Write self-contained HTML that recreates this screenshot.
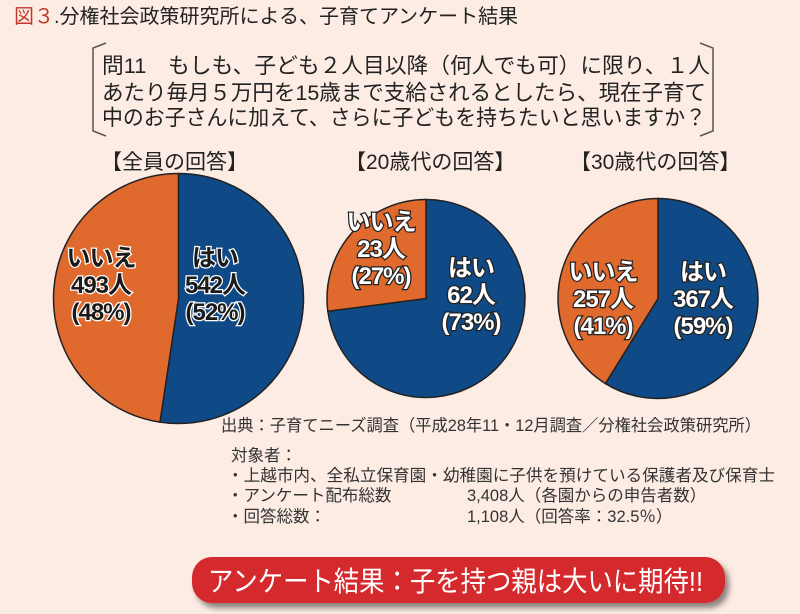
<!DOCTYPE html>
<html><head><meta charset="utf-8"><style>
body{margin:0;background:#fdece4;}
svg{display:block;font-family:"Liberation Sans","Noto Sans CJK JP",sans-serif;}
</style></head><body>
<svg width="800" height="614" viewBox="0 0 800 614">
<defs>
<filter id="sh" x="-10%" y="-30%" width="130%" height="180%"><feDropShadow dx="4" dy="5" stdDeviation="3" flood-color="#000" flood-opacity="0.45"/></filter>
</defs>
<rect width="800" height="614" fill="#fdece4"/>
<text x="14" y="23" font-size="20" fill="#222"><tspan fill="#c0392b">図３</tspan>.分権社会政策研究所による、子育てアンケート結果</text>
<g fill="none" stroke="#555" stroke-width="1.5">
<path d="M106,43 L93,48 L93,131 L106,136"/>
<path d="M700,43 L713,48 L713,131 L700,136"/>
</g>
<g font-size="21.5" fill="#222">
<text x="102" y="73" textLength="608" lengthAdjust="spacingAndGlyphs">問11　もしも、子ども２人目以降（何人でも可）に限り、１人</text>
<text x="102" y="100" textLength="604" lengthAdjust="spacingAndGlyphs">あたり毎月５万円を15歳まで支給されるとしたら、現在子育て</text>
<text x="102" y="125" textLength="604" lengthAdjust="spacingAndGlyphs">中のお子さんに加えて、さらに子どもを持ちたいと思いますか？</text>
</g>
<g font-size="21" fill="#222">
<text x="101" y="169">【全員の回答】</text>
<text x="345" y="169">【20歳代の回答】</text>
<text x="570" y="169">【30歳代の回答】</text>
</g>
<g id="pies"></g>
<g font-size="16.5" fill="#333">
<text x="221" y="431" textLength="540" lengthAdjust="spacingAndGlyphs">出典：子育てニーズ調査（平成28年11・12月調査／分権社会政策研究所）</text>
<text x="231" y="461">対象者：</text>
<text x="227" y="481" textLength="548" lengthAdjust="spacingAndGlyphs">・上越市内、全私立保育園・幼稚園に子供を預けている保護者及び保育士</text>
<text x="227" y="501">・アンケート配布総数</text>
<text x="467" y="501">3,408人（各園からの申告者数）</text>
<text x="227" y="522">・回答総数：</text>
<text x="467" y="522">1,108人（回答率：32.5％）</text>
</g>
<g>
<rect x="192" y="557" width="533" height="46" rx="20" fill="#d42a2e" filter="url(#sh)"/>
<text x="208" y="591" font-size="28" fill="#fff" textLength="495" lengthAdjust="spacingAndGlyphs">アンケート結果：子を持つ親は大いに期待!!</text>
</g>
</svg>
<script>
const groups = ["全員", "20歳代", "30歳代"];
const yesCounts = [542, 62, 367];
const noCounts = [493, 23, 257];
const yesPct = [52, 73, 59];
const noPct = [48, 27, 41];
const NS = "http://www.w3.org/2000/svg";
const geo = [{cx:178.5,cy:298.5,r:125,yes:[215,258],no:[101,258],dark:true},
             {cx:426,cy:298.5,r:99,yes:[471,268],no:[381,222],dark:false},
             {cx:658,cy:298.5,r:100,yes:[703,272],no:[603,272],dark:false}];
const root = document.getElementById("pies");
function pt(g,a){return [g.cx+g.r*Math.sin(a), g.cy-g.r*Math.cos(a)];}
function slice(g,a0,a1,color,name){
  const p0=pt(g,a0),p1=pt(g,a1),large=(a1-a0)>Math.PI?1:0;
  const p=document.createElementNS(NS,"path");
  p.setAttribute("d",`M${g.cx},${g.cy} L${p0[0]},${p0[1]} A${g.r},${g.r} 0 ${large} 1 ${p1[0]},${p1[1]} Z`);
  p.setAttribute("fill",color);p.setAttribute("stroke","#222");p.setAttribute("stroke-width","1.5");
  
  
  root.appendChild(p);
}
function label(x,y,lines,dark,name){
  const t=document.createElementNS(NS,"text");
  t.setAttribute("x",x);t.setAttribute("y",y);t.setAttribute("text-anchor","middle");
  t.setAttribute("font-size","24");t.setAttribute("font-weight","bold");t.setAttribute("letter-spacing","-1");
  t.setAttribute("fill",dark?"#1a1a1a":"#fff");t.setAttribute("stroke",dark?"#fff":"#222");
  t.setAttribute("stroke-width","2.5");t.setAttribute("paint-order","stroke");
  
  
  lines.forEach((s,i)=>{const ts=document.createElementNS(NS,"tspan");ts.setAttribute("x",x);ts.setAttribute("dy",i?27:0);ts.textContent=s;t.appendChild(ts);});
  root.appendChild(t);
}
groups.forEach((gname,i)=>{
  const g=geo[i];const tot=yesCounts[i]+noCounts[i];
  const split=2*Math.PI*yesCounts[i]/tot;
  slice(g,0,split,"#0f4a87","pie-yes-"+i);
  slice(g,split,2*Math.PI,"#e0692d","pie-no-"+i);
  label(g.no[0],g.no[1]+8,["いいえ",noCounts[i]+"人","("+noPct[i]+"%)"],g.dark,"label-no-"+i);
  label(g.yes[0],g.yes[1]+8,["はい",yesCounts[i]+"人","("+yesPct[i]+"%)"],g.dark,"label-yes-"+i);
});
</script>
</body></html>
